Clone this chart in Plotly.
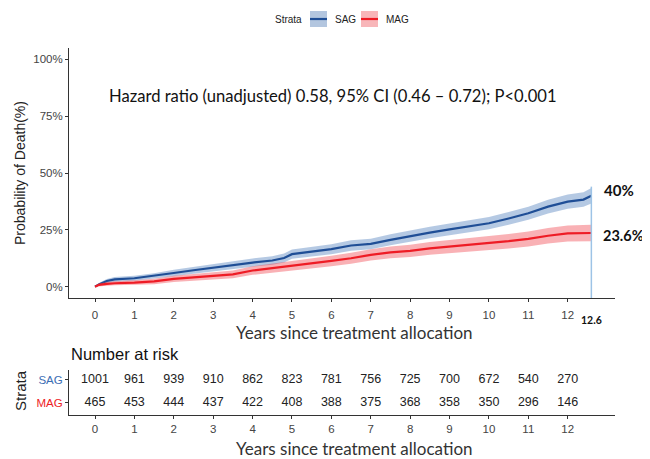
import plotly.graph_objects as go

# cumulative incidence of death (%)
years = [0, 0.1, 0.3, 0.5, 1, 1.5, 2, 2.5, 3, 3.5, 4, 4.5, 4.8, 5, 5.5, 6, 6.5, 7,
         7.5, 8, 8.5, 9, 9.5, 10, 10.5, 11, 11.5, 12, 12.4, 12.6]

sag_est = [0, 1.0, 2.5, 3.2, 3.7, 4.7, 6.0, 7.2, 8.4, 9.6, 10.6, 11.5, 12.6, 14.3, 15.4,
           16.5, 18.1, 18.8, 20.6, 22.3, 23.8, 25.2, 26.6, 27.9, 30.0, 32.3, 35.2, 37.4,
           38.3, 40.0]
sag_low = [0, 0.4, 1.6, 2.2, 2.6, 3.5, 4.6, 5.7, 6.8, 7.9, 8.8, 9.6, 10.6, 12.3, 13.3,
           14.3, 15.8, 16.5, 18.2, 19.8, 21.3, 22.6, 24.0, 25.2, 27.2, 29.4, 32.2, 34.3,
           35.1, 36.6]
sag_up = [0, 1.6, 3.4, 4.2, 4.8, 5.9, 7.4, 8.7, 10.0, 11.3, 12.4, 13.4, 14.6, 16.3, 17.5,
          18.7, 20.4, 21.1, 23.0, 24.8, 26.3, 27.8, 29.2, 30.6, 32.8, 35.2, 38.2, 40.5,
          41.5, 43.4]

mag_est = [0, 0.8, 1.2, 1.5, 1.8, 2.3, 3.4, 4.1, 4.8, 5.4, 7.1, 8.1, 8.7, 9.3, 10.3,
           11.3, 12.5, 14.0, 15.1, 15.7, 16.8, 17.6, 18.1, 19.1, 20.0, 21.0, 22.4, 23.4,
           23.6, 23.6]
mag_low = [0, 0.2, 0.4, 0.6, 0.8, 1.1, 2.0, 2.6, 3.2, 3.7, 5.2, 6.1, 6.6, 7.2, 8.1,
           9.0, 10.1, 11.5, 12.5, 13.0, 14.0, 14.7, 15.1, 16.0, 16.8, 17.7, 19.0, 19.9,
           20.0, 20.0]
mag_up = [0, 1.4, 2.0, 2.4, 2.8, 3.5, 4.8, 5.6, 6.4, 7.1, 9.0, 10.1, 10.8, 11.4, 12.5,
          13.6, 14.9, 16.5, 17.7, 18.4, 19.6, 20.5, 21.1, 22.2, 23.2, 24.3, 25.8, 26.9,
          27.2, 27.2]

# number at risk table
risk_years = list(range(13))
sag_risk = [1001, 961, 939, 910, 862, 823, 781, 756, 725, 700, 672, 540, 270]
mag_risk = [465, 453, 444, 437, 422, 408, 388, 375, 368, 358, 350, 296, 146]

follow_up = 12.6
sag_final = "40%"
mag_final = "23.6%"
hr_text = "Hazard ratio (unadjusted) 0.58, 95% CI (0.46 \u2013 0.72); P<0.001"
x_title = "Years since treatment allocation"

SAG_LINE = "#1F4E96"
SAG_FILL = "rgba(70,120,185,0.40)"
SAG_KEY = "#B3C6DF"
MAG_LINE = "#EE1C25"
MAG_FILL = "rgba(240,60,70,0.40)"
MAG_KEY = "#F8B6B9"
TICK = "#444444"
AX_FONT = "Liberation Sans"
TXT_FONT = "Lato"

fig = go.Figure()

for name, est, low, up, lc, fc in [("SAG", sag_est, sag_low, sag_up, SAG_LINE, SAG_FILL),
                                   ("MAG", mag_est, mag_low, mag_up, MAG_LINE, MAG_FILL)]:
    fig.add_trace(go.Scatter(x=years, y=[v / 100 for v in low], mode="lines",
                             line=dict(width=0), hoverinfo="skip"))
    fig.add_trace(go.Scatter(x=years, y=[v / 100 for v in up], mode="lines",
                             line=dict(width=0), fill="tonexty", fillcolor=fc,
                             hoverinfo="skip"))
    fig.add_trace(go.Scatter(x=years, y=[v / 100 for v in est], mode="lines", name=name,
                             line=dict(color=lc, width=2.2)))

# risk table
for row, counts in [(2, sag_risk), (1, mag_risk)]:
    fig.add_trace(go.Scatter(x=risk_years, y=[row] * len(risk_years), mode="text",
                             text=[str(v) for v in counts], xaxis="x2", yaxis="y2",
                             textfont=dict(family=AX_FONT, size=12.5, color="#222222")))

xr = [-0.66, 13.2]
axis_common = dict(showline=True, linecolor="#333333", linewidth=1, ticks="outside",
                   ticklen=3, tickcolor="#333333", showgrid=False, zeroline=False,
                   automargin=False,
                   tickfont=dict(family=AX_FONT, size=11.5, color=TICK))

# the page puts the plot 8px in from the top-left corner, so the figure is 8px smaller
fig.update_layout(
    width=642, height=451,
    margin=dict(l=61, r=35, t=40, b=44),
    plot_bgcolor="white", paper_bgcolor="white",
    font=dict(family=AX_FONT, color=TICK),
    showlegend=False,
    xaxis=dict(domain=[0, 1], range=xr, tickvals=risk_years, anchor="y",
               ticklabelstandoff=3, **axis_common),
    yaxis=dict(domain=[0.3188, 1], range=[-0.05, 1.05], tickvals=[0, 0.25, 0.5, 0.75, 1],
               tickformat=".0%", anchor="x", **axis_common),
    xaxis2=dict(domain=[0, 1], range=xr, tickvals=risk_years, anchor="y2", **axis_common),
    yaxis2=dict(domain=[0, 0.1226], range=[0.47, 2.43], tickvals=[2, 1],
                ticktext=["<span style='color:#3C6EB4'>SAG</span>",
                          "<span style='color:#EE1C25'>MAG</span>"],
                anchor="x2", **axis_common),
)

# legend drawn as in ggplot: filled key with the line through it
for label, key, line, x0, x1, tx in [("SAG", SAG_KEY, SAG_LINE, 0.4414, 0.4725, 0.4835),
                                     ("MAG", MAG_KEY, MAG_LINE, 0.5348, 0.5659, 0.5769)]:
    fig.add_shape(type="rect", xref="paper", yref="paper", x0=x0, x1=x1, y0=1.0572, y1=1.1008,
                  fillcolor=key, line=dict(width=0))
    fig.add_shape(type="line", xref="paper", yref="paper", x0=x0, x1=x1, y0=1.079, y1=1.079,
                  line=dict(color=line, width=2.2))
    fig.add_annotation(x=tx, y=1.079, xref="paper", yref="paper", text=label, xanchor="left",
                       yanchor="middle", showarrow=False,
                       font=dict(family=AX_FONT, size=10, color="#222222"))
fig.add_annotation(x=0.4029, y=1.079, xref="paper", yref="paper", text="Strata",
                   yanchor="middle", showarrow=False,
                   font=dict(family=AX_FONT, size=10, color="#222222"))

# follow-up marker
fig.add_shape(type="line", x0=follow_up, x1=follow_up, y0=-0.05, y1=0.44,
              xref="x", yref="y", line=dict(color="#9DC3E6", width=1.5))

fig.add_annotation(x=6.05, y=0.84, xref="x", yref="y", text=hr_text, showarrow=False,
                   font=dict(family=TXT_FONT, size=16.6, color="#111111"))
fig.add_annotation(x=12.87, y=0.425, xref="x", yref="y", text="<b>" + sag_final + "</b>",
                   xanchor="left", yanchor="middle", showarrow=False,
                   font=dict(family=TXT_FONT, size=15, color="#111111"))
fig.add_annotation(x=12.85, y=0.227, xref="x", yref="y", text="<b>" + mag_final + "</b>",
                   xanchor="left", yanchor="middle", showarrow=False,
                   font=dict(family=TXT_FONT, size=14.5, color="#111111"))
fig.add_annotation(x=follow_up, y=0.26, xref="x", yref="paper",
                   text="<b>" + str(follow_up) + "</b>", yanchor="middle", showarrow=False,
                   font=dict(family=TXT_FONT, size=10.5, color="#111111"))

# axis / panel titles
for ty in [0.226, -0.0926]:
    fig.add_annotation(x=0.522, y=ty, xref="paper", yref="paper", text=x_title,
                       xanchor="center", yanchor="middle", showarrow=False,
                       font=dict(family=TXT_FONT, size=17, color="#333333"))
fig.add_annotation(x=-0.09, y=0.659, xref="paper", yref="paper", text="Probability of Death(%)",
                   textangle=-90, xanchor="center", yanchor="middle", showarrow=False,
                   font=dict(family=AX_FONT, size=14, color="#222222"))
fig.add_annotation(x=-0.09, y=0.068, xref="paper", yref="paper", text="Strata",
                   textangle=-90, xanchor="center", yanchor="middle", showarrow=False,
                   font=dict(family=AX_FONT, size=15, color="#222222"))
fig.add_annotation(x=0.0, y=0.166, xref="paper", yref="paper", text="Number at risk",
                   xanchor="left", yanchor="middle", showarrow=False,
                   font=dict(family=AX_FONT, size=16.5, color="#111111"))

fig.write_html("out.html")
